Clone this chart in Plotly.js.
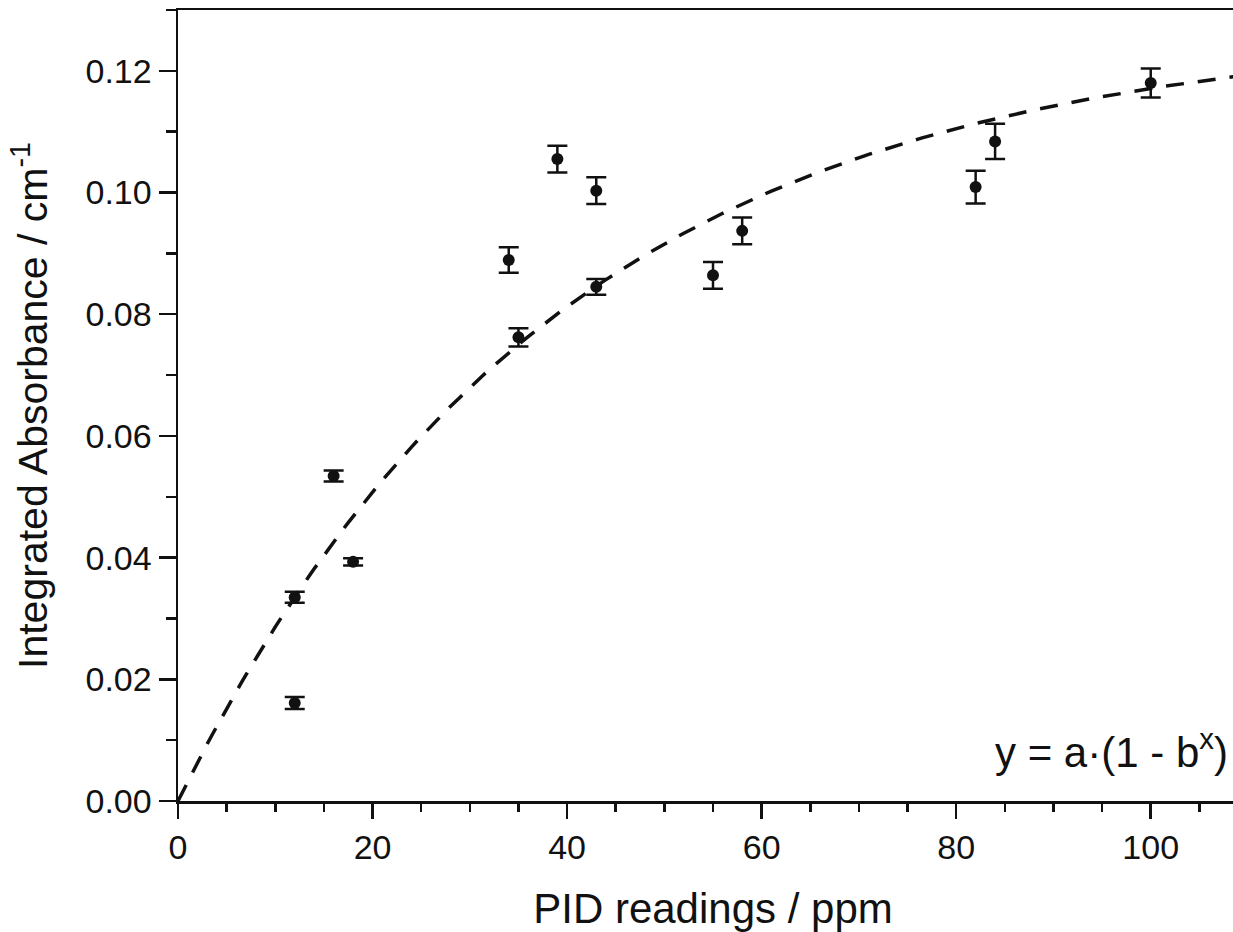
<!DOCTYPE html>
<html>
<head>
<meta charset="utf-8">
<script src="https://cdn.plot.ly/plotly-3.0.1.min.js"></script>
<style>
  html, body { margin: 0; padding: 0; overflow: hidden; background: #fff; }
  #chart { width: 1260px; height: 932px; }
</style>
</head>
<body>
<div id="chart"></div>
<script>
// PID readings (ppm) and the integrated absorbance measured at each
const pidPpm = [12, 12, 16, 18, 34, 35, 39, 43, 43, 55, 58, 82, 84, 100];
const absorbance = [0.0161, 0.0335, 0.0534, 0.0393, 0.0889, 0.0762, 0.1055, 0.1003,
                    0.0845, 0.0864, 0.0937, 0.1009, 0.1084, 0.1180];
const absorbanceErr = [0.0010, 0.0009, 0.0009, 0.0006, 0.0021, 0.0015, 0.0022, 0.0022,
                       0.0013, 0.0022, 0.0022, 0.0027, 0.0029, 0.0024];

// Fitted parameters of y = a·(1 - b^x)
const fitA = 0.127;
const fitB = 0.9748;
const fitRange = [0, 110];

const fitX = [];
const fitY = [];
for (let x = fitRange[0]; x <= fitRange[1]; x += 0.5) {
  fitX.push(x);
  fitY.push(fitA * (1 - Math.pow(fitB, x)));
}

const ink = '#111111';
const fontFamily = 'Liberation Sans, Arial, sans-serif';

const traces = [
  {
    x: fitX, y: fitY, type: 'scatter', mode: 'lines',
    line: { color: ink, width: 3.5, dash: '18px,14px' },
    hoverinfo: 'skip', showlegend: false
  },
  {
    x: pidPpm, y: absorbance, type: 'scatter', mode: 'markers',
    marker: { color: ink, size: 12 },
    error_y: { type: 'data', array: absorbanceErr, visible: true,
               color: ink, thickness: 2.5, width: 10 },
    showlegend: false
  }
];

const layout = {
  width: 1260, height: 932,
  margin: { l: 178, r: 12, t: 10, b: 131 },
  paper_bgcolor: '#fff', plot_bgcolor: '#fff',
  font: { family: fontFamily, color: ink },
  showlegend: false,
  xaxis: {
    range: fitRange, tick0: 0, dtick: 20,
    ticks: 'outside', ticklen: 15, tickwidth: 2.5, tickcolor: ink,
    showline: true, linewidth: 2.5, linecolor: ink, mirror: true,
    showgrid: false, zeroline: false,
    tickfont: { size: 34, color: ink },
    minor: { dtick: 5, ticks: 'outside', ticklen: 8, tickwidth: 2.5, tickcolor: ink, showgrid: false },
    title: { text: 'PID readings / ppm', font: { size: 42, color: ink }, standoff: 37 }
  },
  yaxis: {
    range: [0, 0.13], tick0: 0, dtick: 0.02, tickformat: '.2f',
    ticks: 'outside', ticklen: 17, tickwidth: 2.5, tickcolor: ink,
    showline: true, linewidth: 2.5, linecolor: ink, mirror: true,
    showgrid: false, zeroline: false,
    tickfont: { size: 34, color: ink },
    minor: { dtick: 0.01, ticks: 'outside', ticklen: 10, tickwidth: 2.5, tickcolor: ink, showgrid: false },
    title: { text: 'Integrated Absorbance / cm<sup>-1</sup>', font: { size: 41, color: ink }, standoff: 25 }
  },
  annotations: [
    {
      text: 'y = a·(1 - b<sup>x</sup>)', xref: 'x', yref: 'y',
      x: 108.2, y: 0.0085, xanchor: 'right', yanchor: 'middle',
      showarrow: false, font: { size: 42, color: ink }
    }
  ]
};

Plotly.newPlot('chart', traces, layout, { staticPlot: true, displayModeBar: false });
</script>
</body>
</html>
